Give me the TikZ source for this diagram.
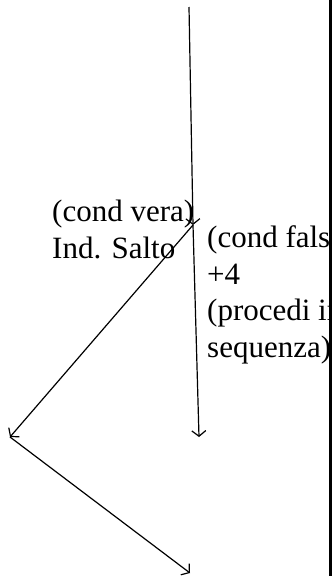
\documentclass[tikz,border=0pt]{standalone}
\usepackage{fontspec}
\setmainfont{Liberation Serif}
\usetikzlibrary{arrows.meta}
\begin{document}
\begin{tikzpicture}[x=1pt,y=-1pt,
  flow/.style={line width=1.2pt,-{Straight Barb[length=5.5pt,width=14pt,line width=1.2pt]}},
  lbl/.style={anchor=base west,inner sep=0pt,align=left,
    font=\fontsize{31}{36.5}\selectfont}]
\useasboundingbox (0,0) rectangle (332,576);
\coordinate (top) at (189,7);
\coordinate (split) at (193,225);
\coordinate (left) at (10,437);
\coordinate (bot) at (199,437);
\coordinate (end) at (190,573);
\begin{scope}
\clip (0,0) rectangle (328.5,576);
\node[lbl] (vera) at (52,258) {(cond vera)\\Ind. Salto};
\node[lbl] (falsa) at (207,357) {(cond falsa)\\+4\\(procedi in\\sequenza)};
\end{scope}
\draw[flow] (top) -- (split);
\draw[flow] (split) -- (left);
\draw[flow] (split) -- (bot);
\draw[flow] (left) -- (end);
\fill (328.5,0) rectangle (332,576);
\end{tikzpicture}
\end{document}
